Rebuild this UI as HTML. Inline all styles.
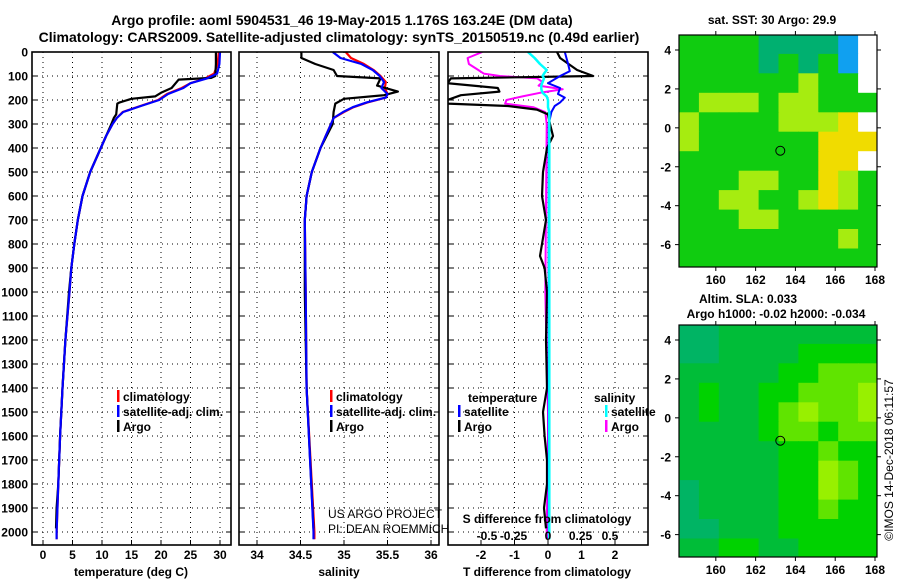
<!DOCTYPE html>
<html><head><meta charset="utf-8"><style>
html,body{margin:0;padding:0;background:#fff;}
svg{display:block;font-family:"Liberation Sans",sans-serif;}
.b{font-weight:bold;}
</style></head><body>
<svg id="c" width="900" height="580" viewBox="0 0 900 580">
<text x="342" y="25" text-anchor="middle" font-size="14" class="b">Argo profile: aoml 5904531_46 19-May-2015 1.176S 163.24E (DM data)</text>
<text x="339" y="42" text-anchor="middle" font-size="14" class="b">Climatology: CARS2009. Satellite-adjusted climatology: synTS_20150519.nc (0.49d earlier)</text>
<g id="g"></g>
</svg>
<script>
// ---------- profile data ----------
const climDepth=[0,50,90,110,130,150,175,200,225,250,275,300,350,400,500,600,700,800,900,1000,1200,1400,1600,1800,2000,2030];
const climT=[29.8,29.6,29.0,27.5,25,23.5,21,19.5,16.5,13.5,12.5,11.8,10.7,9.8,8.0,6.7,5.9,5.3,4.8,4.5,3.8,3.3,2.9,2.6,2.3,2.3];
const satT=[30.0,29.9,29.5,27.8,25,23.8,21.2,19.7,16.6,13.6,12.5,11.8,10.7,9.8,8.0,6.7,5.9,5.3,4.8,4.5,3.8,3.3,2.9,2.6,2.3,2.3];
const argoDepth=[0,50,100,108,115,150,170,185,195,210,215,260,275,300,400,500,600,700,800,900,1000,1200,1400,1600,1800,1900,1985];
const argoT=[29.3,29.3,29.2,28.5,23,21.8,20,19,15,13,12.6,12.4,12,11.6,9.8,8.0,6.7,5.9,5.3,4.8,4.4,3.8,3.3,2.9,2.6,2.3,2.2];
const sDepth=[0,25,50,75,100,125,150,175,190,210,230,250,275,300,350,400,500,600,700,1000,1400,2000,2030];
const climS=[35.02,35.08,35.23,35.34,35.42,35.48,35.47,35.5,35.48,35.27,35.11,35.0,34.88,34.85,34.79,34.73,34.63,34.57,34.55,34.56,34.57,34.66,34.66];
const satS=[34.87,34.96,35.2,35.33,35.41,35.46,35.43,35.5,35.48,35.26,35.1,34.99,34.88,34.85,34.79,34.73,34.63,34.57,34.55,34.56,34.57,34.65,34.65];
const argoSDepth=[0,25,50,75,100,110,140,165,180,195,215,250,300,400,500,600,700,1000,1400,1985];
const argoS=[34.51,34.51,34.67,34.88,34.92,35.42,35.38,35.62,35.46,35.0,34.9,34.88,34.87,34.73,34.63,34.57,34.55,34.55,34.57,34.65];
// ---------- difference data ----------
const dTDepth=[0,25,75,100,110,130,150,165,180,200,215,225,240,260,300,350,400,500,600,700,800,850,900,1000,1200,1400,1500,1600,1700,1800,1900,1985];
const argoDT=[0.27,0.36,0.87,1.35,-2.9,-3.0,-1.5,-1.45,-2.6,-3.0,-3.0,-1.2,-0.33,0.0,0.06,0.15,-0.03,-0.15,-0.18,-0.06,-0.18,-0.24,-0.1,-0.03,-0.06,-0.03,-0.15,-0.1,-0.03,-0.03,-0.12,-0.06];
const satDTDepth=[0,50,80,100,130,150,175,190,210,225,250,300,1000,2030];
const satDT=[0.5,0.6,0.65,0.36,0.0,0.36,0.3,0.5,0.36,0.2,0.1,0.02,0.02,0.02];
const dSDepth=[0,25,50,75,90,100,110,125,140,155,170,185,200,215,230,250,300,1000,1500,1600,2000,2030];
const argoDS=[-0.49,-0.6,-0.59,-0.52,-0.48,-0.36,-0.08,-0.04,-0.07,0.11,-0.06,-0.19,-0.31,-0.32,-0.11,-0.02,-0.01,-0.02,0.0,0.0,-0.01,-0.01];
const satDS=[-0.15,-0.1,-0.06,-0.01,-0.03,-0.04,-0.03,-0.04,-0.05,-0.05,-0.04,-0.01,0.0,0.0,0.0,0.01,0.01,0.01,0.01,0.01,0.01,0.01];
// ---------- tick labels ----------
const depthTicks=[0,100,200,300,400,500,600,700,800,900,1000,1100,1200,1300,1400,1500,1600,1700,1800,1900,2000];
const tTicks=[0,5,10,15,20,25,30];
const sTicks=[34,34.5,35,35.5,36];
const dtTicks=[-2,-1,0,1,2];
const dsTicks=[-0.5,-0.25,0,0.25,0.5];
const lonTicks=[160,162,164,166,168];
const latTicks=[4,2,0,-2,-4,-6];
// ---------- map cells (1 degree, rows from north) ----------
const sstRows=[
[4,4,4,4,3,3,3,3,2,0],
[4,4,4,4,3,4,3,4,2,0],
[4,4,4,4,4,4,5,4,4,0],
[4,5,5,5,4,5,5,4,4,4],
[5,4,4,4,4,5,5,5,6,0],
[5,4,4,4,4,4,4,6,6,6],
[4,4,4,4,4,4,4,6,6,0],
[4,4,4,5,5,4,4,6,5,4],
[4,4,5,5,4,4,5,6,5,4],
[4,4,4,5,5,4,4,4,4,4],
[4,4,4,4,4,4,4,4,5,4],
[4,4,4,4,4,4,4,4,4,4]];
const slaRows=[
[0,0,1,1,1,1,1,1,1,1],
[0,0,1,1,1,1,2,2,2,2],
[1,1,1,1,1,2,2,3,3,3],
[1,2,1,1,2,2,3,3,3,4],
[1,2,1,1,2,3,4,3,3,4],
[1,1,1,1,2,3,3,2,3,3],
[1,1,1,1,1,2,2,3,2,2],
[1,1,1,1,1,2,2,4,3,2],
[0,1,1,1,1,2,2,4,3,2],
[0,1,1,1,1,2,2,3,2,2],
[0,0,1,1,1,2,2,2,2,2],
[1,1,2,2,1,1,2,2,2,2]];
const argoLon=163.24, argoLat=-1.176;

const NS='http://www.w3.org/2000/svg';
const G=document.getElementById('g');
function mk(t,a,p){const e=document.createElementNS(NS,t);for(const k in a)e.setAttribute(k,a[k]);(p||G).appendChild(e);return e;}
function txt(x,y,s,a,p){const e=mk('text',Object.assign({x:x,y:y},a),p);e.textContent=s;return e;}
const yD=d=>52+0.24*d;
const PB=545;
const xT=v=>43+v*(220-43)/30;
const xS=v=>257+(v-34)*(431-257)/2;
const xDT=v=>548+v*33.5;
const xDS=v=>548+v*134;

function panel(x0,x1,name){
  const g=mk('g',{});
  
  
  mk('rect',{x:x0,y:52,width:x1-x0,height:PB-52,fill:'#fff'},g);
  return g;
}
function grid(g,x0,x1,xs){
  depthTicks.forEach(d=>{ if(d===0)return; mk('line',{x1:x0,x2:x1,y1:yD(d),y2:yD(d),stroke:'#000','stroke-dasharray':'1 4'},g);
    mk('line',{x1:x0,x2:x0+5,y1:yD(d),y2:yD(d),stroke:'#000'},g);mk('line',{x1:x1-5,x2:x1,y1:yD(d),y2:yD(d),stroke:'#000'},g);});
  xs.forEach(x=>mk('line',{x1:x,x2:x,y1:52,y2:PB,stroke:'#000','stroke-dasharray':'1 4'},g));
}
function line(g,ds,vs,fx,col,name,w,clip){
  const pts=ds.map((d,i)=>fx(vs[i]).toFixed(1)+','+yD(d).toFixed(1)).join(' ');
  const e=mk('polyline',{points:pts,fill:'none',stroke:col,'stroke-width':w||2.2,'stroke-linejoin':'round'},g);
  if(clip)e.setAttribute('clip-path',clip);
  
  
}
function frame(g,x0,x1){mk('rect',{x:x0,y:52,width:x1-x0,height:PB-52,fill:'none',stroke:'#000','stroke-width':1.6},g);}
function legend(g,x,y,col,s){mk('rect',{x:x,y:y-11,width:2.5,height:12,fill:col},g);const t=txt(x+6,y,s,{'font-size':12,'font-weight':'bold'},g);}

depthTicks.forEach(d=>{const t=txt(28,yD(d)+4.5,String(d),{'font-size':12,'font-weight':'bold','text-anchor':'end'});});

const p1=panel(32,231,'temperature-panel');
grid(p1,32,231,tTicks.map(xT));
line(p1,climDepth,climT,xT,'#f00','climatology-temperature-line');
line(p1,argoDepth,argoT,xT,'#000','argo-temperature-line');
line(p1,climDepth,satT,xT,'#00f','satellite-temperature-line');
frame(p1,32,231);
tTicks.forEach(v=>{txt(xT(v),559,String(v),{'font-size':12,'font-weight':'bold','text-anchor':'middle'},p1);mk('line',{x1:xT(v),x2:xT(v),y1:PB-5,y2:PB,stroke:'#000'},p1);});
txt(131,576,'temperature (deg C)',{'font-size':12,'font-weight':'bold','text-anchor':'middle'},p1);
legend(p1,117,401,'#f00','climatology');legend(p1,117,416,'#00f','satellite-adj. clim.');legend(p1,117,431,'#000','Argo');

const p2=panel(239,439,'salinity-panel');
grid(p2,239,439,sTicks.map(xS));
line(p2,sDepth,climS,xS,'#f00','climatology-salinity-line');
line(p2,argoSDepth,argoS,xS,'#000','argo-salinity-line');
line(p2,sDepth,satS,xS,'#00f','satellite-salinity-line');
frame(p2,239,439);
sTicks.forEach(v=>{txt(xS(v),559,String(v),{'font-size':12,'font-weight':'bold','text-anchor':'middle'},p2);mk('line',{x1:xS(v),x2:xS(v),y1:PB-5,y2:PB,stroke:'#000'},p2);});
txt(339,576,'salinity',{'font-size':12,'font-weight':'bold','text-anchor':'middle'},p2);
legend(p2,330,401,'#f00','climatology');legend(p2,330,416,'#00f','satellite-adj. clim.');legend(p2,330,431,'#000','Argo');
txt(328,518,'US ARGO PROJECT',{'font-size':12,'fill':'#000'},p2);
txt(328,533,'PI: DEAN ROEMMICH',{'font-size':12,'fill':'#000'},p2);

const p3=panel(448,648,'difference-panel');
const cp=mk('clipPath',{id:'cp3'},p3);mk('rect',{x:448,y:52,width:200,height:PB-52},cp);
grid(p3,448,648,dtTicks.map(xDT));
line(p3,dSDepth,argoDS,xDS,'#f0f','argo-salinity-diff-line',2,'url(#cp3)');
line(p3,dTDepth,argoDT,xDT,'#000','argo-temperature-diff-line',2.2,'url(#cp3)');
line(p3,satDTDepth,satDT,xDT,'#00f','satellite-temperature-diff-line',2,'url(#cp3)');
line(p3,dSDepth,satDS,xDS,'#0ff','satellite-salinity-diff-line',2.5,'url(#cp3)');
frame(p3,448,648);
dtTicks.forEach(v=>{txt(xDT(v),559,String(v),{'font-size':12,'font-weight':'bold','text-anchor':'middle'},p3);mk('line',{x1:xDT(v),x2:xDT(v),y1:PB-5,y2:PB,stroke:'#000'},p3);});
const dsOff=[6,-1,0,-1,-5];
dsTicks.forEach((v,i)=>txt(xDS(v)+dsOff[i],540,String(v),{'font-size':12,'font-weight':'bold','text-anchor':'middle'},p3));
txt(547,523,'S difference from climatology',{'font-size':12,'font-weight':'bold','text-anchor':'middle'},p3);
txt(547,576,'T difference from climatology',{'font-size':12,'font-weight':'bold','text-anchor':'middle'},p3);
txt(468,402,'temperature',{'font-size':12,'font-weight':'bold'},p3);
txt(594,402,'salinity',{'font-size':12,'font-weight':'bold'},p3);
legend(p3,458,416,'#00f','satellite');legend(p3,458,431,'#000','Argo');
legend(p3,605,416,'#0ff','satellite');legend(p3,605,431,'#f0f','Argo');

const sstCol=['#ffffff','#000a9a','#10a0f0','#00b070','#10cc10','#a6ec10','#f0dc00'];
const slaCol=['#00b464','#00bd38','#00d200','#60e400','#98f000'];
const LON0=158.15,LON1=168.1;
function map(y0,y1,rows,cols,name){
  const x0=679,x1=877;
  const g=mk('g',{});
  
  
  const fx=l=>x0+(l-LON0)*(x1-x0)/(LON1-LON0);
  const lat0=4.77,lat1=-7.15;
  const fy=l=>y0+(lat0-l)*(y1-y0)/(lat0-lat1);
  const cid='c'+y0;const c=mk('clipPath',{id:cid},g);mk('rect',{x:x0,y:y0,width:x1-x0,height:y1-y0},c);
  const cg=mk('g',{'clip-path':'url(#'+cid+')'},g);
  rows.forEach((r,i)=>r.forEach((v,j)=>{
    const la=4.8-i, lo=158.15+j;
    const e=mk('rect',{x:fx(lo).toFixed(1),y:fy(la).toFixed(1),width:(fx(lo+1)-fx(lo)+0.6).toFixed(1),height:(fy(la-1)-fy(la)+0.6).toFixed(1),fill:cols[v]},cg);
    
    
  }));
  mk('rect',{x:x0,y:y0,width:x1-x0,height:y1-y0,fill:'none',stroke:'#000','stroke-width':1.2},g);
  lonTicks.forEach(v=>{txt(fx(v),y1+17,String(v),{'font-size':12,'font-weight':'bold','text-anchor':'middle'},g);
    mk('line',{x1:fx(v),x2:fx(v),y1:y0-4,y2:y0,stroke:'#000'},g);mk('line',{x1:fx(v),x2:fx(v),y1:y1,y2:y1+4,stroke:'#000'},g);});
  latTicks.forEach(v=>{txt(x0-8,fy(v)+4.5,String(v),{'font-size':12,'font-weight':'bold','text-anchor':'end'},g);
    mk('line',{x1:x0-4,x2:x0,y1:fy(v),y2:fy(v),stroke:'#000'},g);mk('line',{x1:x1,x2:x1+4,y1:fy(v),y2:fy(v),stroke:'#000'},g);});
  const m=mk('circle',{cx:fx(argoLon),cy:fy(argoLat),r:4.5,fill:'none',stroke:'#000','stroke-width':1},g);
  
  
}
map(35,267,sstRows,sstCol,'sst-map');
map(325,557,slaRows,slaCol,'sla-map');
txt(772,24,'sat. SST: 30 Argo: 29.9',{'font-size':12,'font-weight':'bold','text-anchor':'middle'});
txt(748,303,'Altim. SLA: 0.033',{'font-size':12,'font-weight':'bold','text-anchor':'middle'});
txt(776,318,'Argo h1000: -0.02 h2000: -0.034',{'font-size':12,'font-weight':'bold','text-anchor':'middle'});
const cr=txt(0,0,'©IMOS 14-Dec-2018 06:11:57',{'font-size':12,'text-anchor':'middle',transform:'translate(893,460) rotate(-90)'});


</script>
</body></html>
